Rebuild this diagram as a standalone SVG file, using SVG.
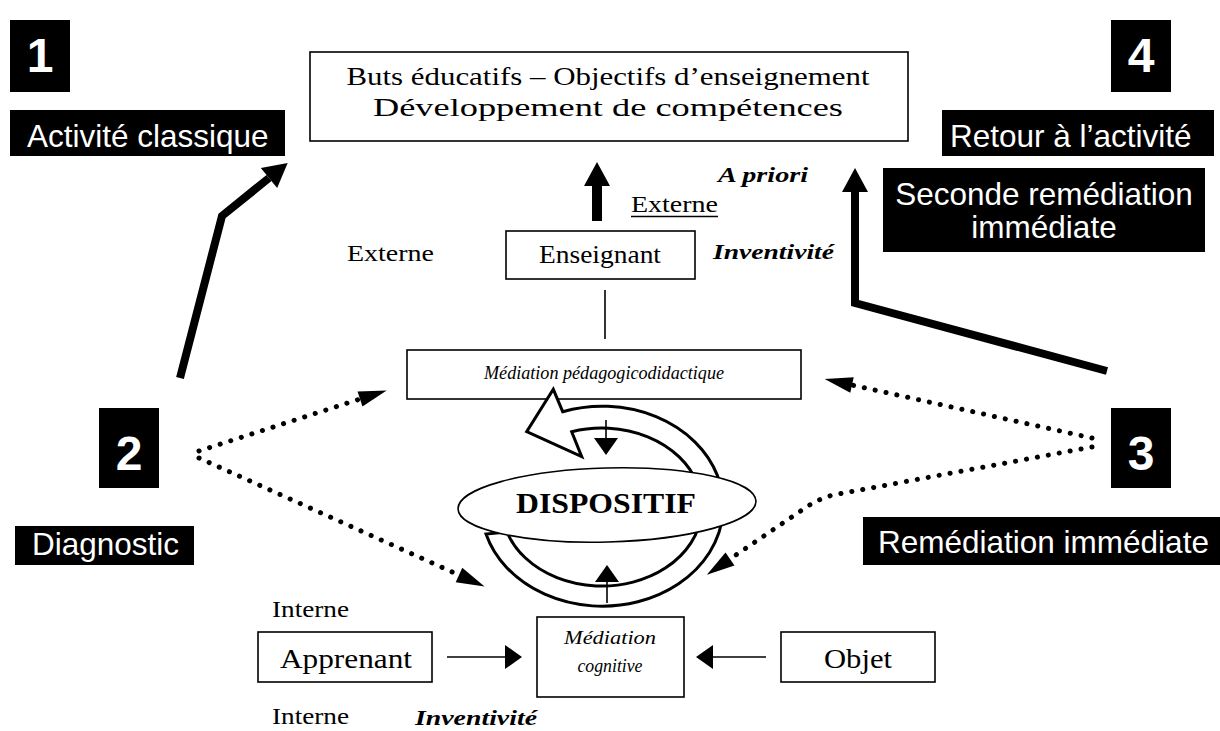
<svg xmlns="http://www.w3.org/2000/svg" width="1220" height="731" viewBox="0 0 1220 731">
<style>
.ser{font-family:"Liberation Serif","Times New Roman",serif;fill:#000}
.it{font-style:italic}
.bi{font-style:italic;font-weight:bold}
.lab{font-family:"Liberation Sans",Arial,sans-serif;fill:#fff;font-size:31.5px}
.num{font-family:"Liberation Sans",Arial,sans-serif;fill:#fff;font-size:48px;font-weight:bold;text-anchor:middle}
.blk{fill:#000}
.box{fill:#fff;stroke:#000;stroke-width:1.6}
.thick{fill:none;stroke:#000;stroke-width:8;stroke-linejoin:miter}
.dot{fill:none;stroke:#000;stroke-width:5;stroke-linecap:round;stroke-dasharray:0.1 11}
.thin{fill:none;stroke:#000;stroke-width:1.6}
.mid{text-anchor:middle}
</style>
<defs>
<marker id="hThick" markerUnits="userSpaceOnUse" orient="auto" refX="0" refY="0" markerWidth="30" markerHeight="30" overflow="visible"><path d="M0,-13 L24,0 L0,13 Z" fill="#000"/></marker>
<marker id="hDot" markerUnits="userSpaceOnUse" orient="auto" refX="0" refY="0" markerWidth="30" markerHeight="30" overflow="visible"><path d="M0,-8 L28,0 L0,8 Z" fill="#000"/></marker>
<marker id="hSmall" markerUnits="userSpaceOnUse" orient="auto" refX="0" refY="0" markerWidth="30" markerHeight="30" overflow="visible"><path d="M0,-12 L17,0 L0,12 Z" fill="#000"/></marker>
</defs>
<rect width="1220" height="731" fill="#fff"/>

<g id="connectors">
<line class="thin" x1="605" y1="290" x2="605" y2="339"/>
<path class="thick" style="stroke-width:10" d="M597,221 L597,186" marker-end="url(#hThick)"/>
<path class="thick" d="M180,378 L222,216 L269,178" marker-end="url(#hThick)"/>
<path class="thick" d="M1107,371 L855,303 L855,192" marker-end="url(#hThick)"/>
<path class="dot" d="M199,451 L360,399" marker-end="url(#hDot)"/>
<path class="dot" d="M199,458 L459,575" marker-end="url(#hDot)"/>
<path class="dot" d="M1092,438 L852,385" marker-end="url(#hDot)"/>
<path class="dot" d="M1092,447 L833,495 Q818,499 805,508 L730,559" marker-end="url(#hDot)"/>
<path class="thin" d="M447,657 L505,657" marker-end="url(#hSmall)"/>
<path class="thin" d="M766,657 L713,657" marker-end="url(#hSmall)"/>
</g>

<g id="label-1"><rect class="blk" x="10" y="20" width="60" height="72"/><text class="num" x="40" y="72">1</text></g>
<g id="label-activite"><rect class="blk" x="10" y="110" width="275" height="46"/><text class="lab" x="27" y="147">Activité classique</text></g>
<g id="label-4"><rect class="blk" x="1111" y="20" width="60" height="72"/><text class="num" x="1141" y="72">4</text></g>
<g id="label-retour"><rect class="blk" x="942" y="110" width="272" height="46"/><text class="lab" x="950" y="147">Retour à l’activité</text></g>
<g id="label-seconde"><rect class="blk" x="883" y="168" width="322" height="84"/><text class="lab mid" x="1044" y="205">Seconde remédiation</text><text class="lab mid" x="1044" y="238">immédiate</text></g>
<g id="label-2"><rect class="blk" x="99" y="408" width="60" height="80"/><text class="num" x="129" y="470">2</text></g>
<g id="label-diagnostic"><rect class="blk" x="15" y="526" width="179" height="39"/><text class="lab" x="32" y="555">Diagnostic</text></g>
<g id="label-3"><rect class="blk" x="1111" y="408" width="60" height="80"/><text class="num" x="1141" y="470">3</text></g>
<g id="label-remediation"><rect class="blk" x="863" y="517" width="357" height="48"/><text class="lab" x="878" y="553">Remédiation immédiate</text></g>

<g id="buts">
<rect class="box" x="310" y="52" width="598" height="89"/>
<text class="ser mid" x="608" y="85" font-size="25" textLength="523" lengthAdjust="spacingAndGlyphs">Buts éducatifs – Objectifs d’enseignement</text>
<text class="ser mid" x="608" y="116" font-size="25" textLength="470" lengthAdjust="spacingAndGlyphs">Développement de compétences</text>
</g>
<g id="apriori"><text class="ser bi" x="718" y="182" font-size="22" textLength="90" lengthAdjust="spacingAndGlyphs">A priori</text></g>
<g id="externe-haut"><text class="ser" x="631" y="212" font-size="23" textLength="87" lengthAdjust="spacingAndGlyphs">Externe</text><line x1="631" y1="216.5" x2="718" y2="216.5" stroke="#000" stroke-width="1.6"/></g>
<g id="inventivite-haut"><text class="ser bi" x="713" y="259" font-size="22" textLength="121" lengthAdjust="spacingAndGlyphs">Inventivité</text></g>
<g id="externe-gauche"><text class="ser" x="347" y="261" font-size="23" textLength="87" lengthAdjust="spacingAndGlyphs">Externe</text></g>
<g id="enseignant"><rect class="box" x="506" y="231" width="189" height="48"/><text class="ser mid" x="600" y="263" font-size="26" textLength="122" lengthAdjust="spacingAndGlyphs">Enseignant</text></g>
<g id="mediation-pedago"><rect class="box" x="407" y="350" width="394" height="49"/><text class="ser it mid" x="604" y="379" font-size="18" textLength="240" lengthAdjust="spacingAndGlyphs">Médiation pédagogicodidactique</text></g>

<g id="cycle">
<path d="M562.7,411.7 A121,100 0 1 1 486,534 L507,532 A100,79 0 1 0 571.7,431.7 L581.7,456.7 L526.7,431.7 L553.3,389.3 Z" fill="#fff" stroke="#000" stroke-width="3" stroke-linejoin="miter"/>
</g>
<g id="dispositif">
<ellipse cx="607" cy="505" rx="149" ry="37" fill="#fff" stroke="#000" stroke-width="1.6" transform="rotate(-1.5 607 505)"/>
<text class="ser mid" x="606" y="513" font-size="30" font-weight="bold" textLength="180" lengthAdjust="spacingAndGlyphs">DISPOSITIF</text>
</g>
<g id="cycle-arrows">
<path class="thin" d="M606,420 L606,438" marker-end="url(#hSmall)"/>
<path class="thin" d="M607,603 L607,582" marker-end="url(#hSmall)"/>
</g>

<g id="interne-haut"><text class="ser" x="272" y="617" font-size="23" textLength="77" lengthAdjust="spacingAndGlyphs">Interne</text></g>
<g id="apprenant"><rect class="box" x="258" y="632" width="174" height="50"/><text class="ser" x="280" y="668" font-size="28" textLength="132" lengthAdjust="spacingAndGlyphs">Apprenant</text></g>
<g id="mediation-cognitive"><rect class="box" x="537" y="617" width="147" height="80"/><text class="ser it mid" x="610" y="644" font-size="19" textLength="92" lengthAdjust="spacingAndGlyphs">Médiation</text><text class="ser it mid" x="610" y="672" font-size="19" textLength="65" lengthAdjust="spacingAndGlyphs">cognitive</text></g>
<g id="objet"><rect class="box" x="781" y="632" width="154" height="50"/><text class="ser mid" x="858" y="668" font-size="27" textLength="68" lengthAdjust="spacingAndGlyphs">Objet</text></g>
<g id="interne-bas"><text class="ser" x="272" y="724" font-size="23" textLength="77" lengthAdjust="spacingAndGlyphs">Interne</text></g>
<g id="inventivite-bas"><text class="ser bi" x="415" y="725" font-size="22" textLength="122" lengthAdjust="spacingAndGlyphs">Inventivité</text></g>
</svg>
